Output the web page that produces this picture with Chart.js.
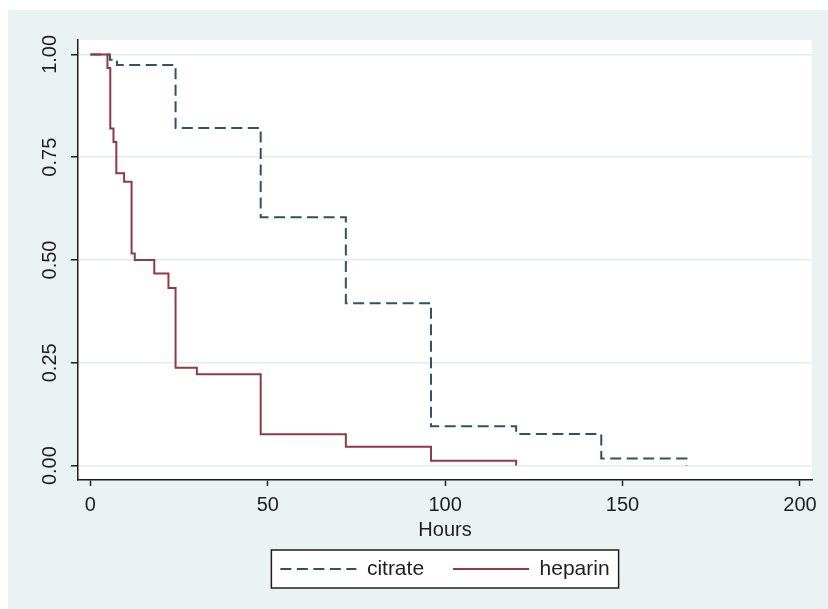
<!DOCTYPE html>
<html><head><meta charset="utf-8">
<script src="https://cdn.jsdelivr.net/npm/chart.js@4.4.1/dist/chart.umd.min.js"></script>
<style>html,body{margin:0;padding:0;background:#fff;overflow:hidden}#wrap{width:828px;height:609px;position:relative}</style>
</head><body><div id="wrap"><canvas id="c"></canvas></div>
<script>
// ---- data ----
const citrateHours = [0, 5.5, 7.5, 24, 48, 72, 96, 120, 144, 168];
const citrateSurv  = [1.0, 0.987, 0.974, 0.821, 0.604, 0.395, 0.096, 0.077, 0.017, 0.0];
const heparinHours = [0, 4.8, 5.6, 6.5, 7.3, 9.5, 11.6, 12.5, 18, 22, 24, 30, 48, 72, 96, 120];
const heparinSurv  = [1.0, 0.967, 0.82, 0.787, 0.711, 0.69, 0.516, 0.50, 0.467, 0.432, 0.238, 0.222, 0.076, 0.046, 0.012, 0.0];
const seriesNames = ['citrate', 'heparin'];
const xTicks = [0, 50, 100, 150, 200];
const xTickLabels = ['0', '50', '100', '150', '200'];
const yTicks = [0, 0.25, 0.5, 0.75, 1];
const yTickLabels = ['0.00', '0.25', '0.50', '0.75', '1.00'];
const xTitle = 'Hours';

const FONT = "'Liberation Sans', Arial, Helvetica, sans-serif";
const INK = '#1e1e1e';
const PANEL = '#eaf2f3';
const LEGEND_CY = 569;      // vertical centre of the legend row
const LEGEND_FONT = 21;
const LEGEND_GAP = 29;

const toPts = (xs, ys) => xs.map((x, i) => ({x, y: ys[i]}));

const bgPlugin = {
  id: 'bg',
  afterLayout(chart) {
    const lg = chart.legend, a = chart.chartArea;
    if (lg) {
      const h = lg.height;
      lg.left = a.left; lg.right = a.right; lg.width = a.right - a.left;
      lg.top = LEGEND_CY - LEGEND_GAP - LEGEND_FONT / 2;
      lg.bottom = lg.top + h;
    }
  },
  beforeDraw(chart) {
    const {ctx, chartArea: a} = chart;
    ctx.save();
    ctx.fillStyle = '#ffffff';
    ctx.fillRect(0, 0, chart.width, chart.height);
    ctx.fillStyle = PANEL;
    ctx.fillRect(8, 10, chart.width - 8, chart.height - 10);
    ctx.fillStyle = '#ffffff';
    ctx.fillRect(a.left, a.top, a.right - a.left, a.bottom - a.top);
    const lg = chart.legend;
    if (lg && lg.legendHitBoxes && lg.legendHitBoxes.length) {
      const hb = lg.legendHitBoxes;
      const l = Math.min(...hb.map(b => b.left)) - 9;
      const r = Math.max(...hb.map(b => b.left + b.width)) + 9;
      ctx.fillStyle = '#ffffff';
      ctx.fillRect(l, LEGEND_CY - 19, r - l, 38);
      ctx.strokeStyle = INK;
      ctx.lineWidth = 1.5;
      ctx.strokeRect(l, LEGEND_CY - 19, r - l, 38);
    }
    ctx.restore();
  }
};

new Chart(document.getElementById('c'), {
  type: 'line',
  data: {
    datasets: [
      {
        label: seriesNames[0],
        data: toPts(citrateHours, citrateSurv),
        stepped: 'before',
        borderColor: '#30506c',
        borderWidth: 2,
        borderDash: [11, 5.5],
        pointRadius: 0,
        fill: false,
        order: 2
      },
      {
        label: seriesNames[1],
        data: toPts(heparinHours, heparinSurv),
        stepped: 'before',
        borderColor: '#8f3a45',
        borderWidth: 2,
        pointRadius: 0,
        fill: false,
        order: 1
      }
    ]
  },
  options: {
    responsive: true,
    maintainAspectRatio: false,
    animation: false,
    layout: { padding: { left: 0, right: 16, top: 40, bottom: 0.5 } },
    plugins: {
      tooltip: { enabled: false },
      legend: {
        display: true,
        position: 'bottom',
        labels: {
          usePointStyle: true,
          pointStyle: 'line',
          pointStyleWidth: 76,
          padding: LEGEND_GAP,
          color: INK,
          font: { family: FONT, size: LEGEND_FONT },
          sort: (a, b) => a.datasetIndex - b.datasetIndex,
          generateLabels: chart => {
            const base = Chart.defaults.plugins.legend.labels.generateLabels(chart);
            return base.map(it => {
              const ds = chart.data.datasets[it.datasetIndex];
              return Object.assign(it, {
                strokeStyle: ds.borderColor,
                fillStyle: ds.borderColor,
                lineWidth: ds.borderWidth,
                lineDash: ds.borderDash || [],
                pointStyle: 'line'
              });
            });
          }
        }
      }
    },
    scales: {
      x: {
        type: 'linear',
        min: -3.5,
        max: 203.4,
        afterBuildTicks: s => { s.ticks = xTicks.map(v => ({value: v})); },
        afterFit: s => { s.height = 68.5; },
        grid: { drawOnChartArea: false, drawTicks: true, tickLength: 6, tickColor: INK, tickWidth: 1.5 },
        border: { display: true, color: INK, width: 1.5 },
        ticks: {
          autoSkip: false, maxRotation: 0, padding: 7, color: INK,
          font: { family: FONT, size: 20 },
          callback: v => xTickLabels[xTicks.indexOf(v)]
        },
        title: { display: true, text: xTitle, color: INK, font: { family: FONT, size: 20 }, padding: { top: 0, bottom: 6.5 } }
      },
      y: {
        type: 'linear',
        min: -0.035,
        max: 1.035,
        afterBuildTicks: s => { s.ticks = yTicks.map(v => ({value: v})); },
        afterFit: s => { s.width = 78; },
        grid: { color: '#e3ebed', lineWidth: 1.5, drawTicks: true, tickLength: 7, tickColor: INK, tickWidth: 1.5 },
        border: { display: true, color: INK, width: 1.5 },
        ticks: {
          autoSkip: false, minRotation: 90, maxRotation: 90, crossAlign: 'center', padding: 1, color: INK,
          font: { family: FONT, size: 20 },
          callback: v => yTickLabels[yTicks.indexOf(v)]
        }
      }
    }
  },
  plugins: [bgPlugin]
});
</script>
</body></html>
